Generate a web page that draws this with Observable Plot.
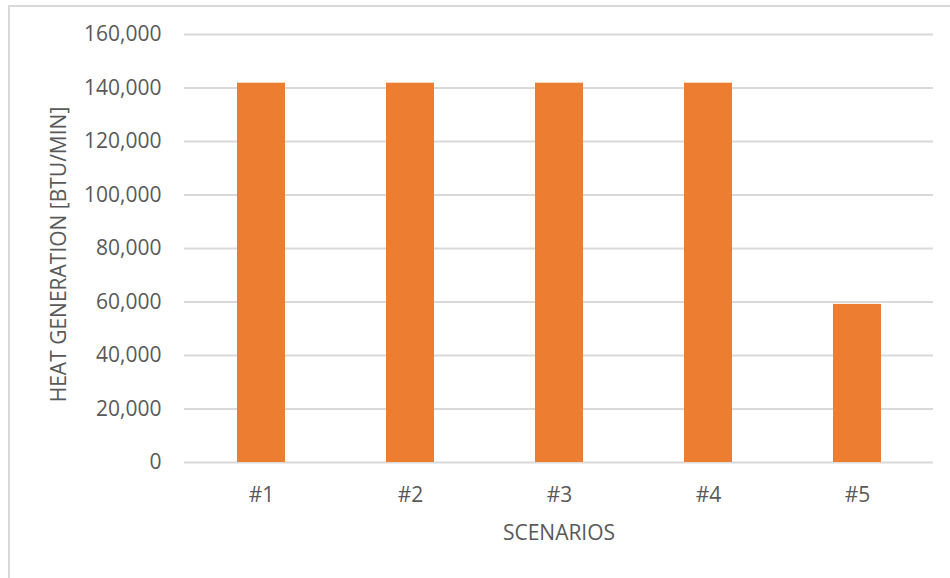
<!DOCTYPE html>
<html>
<head>
<meta charset="utf-8">
<script src="https://cdn.jsdelivr.net/npm/d3@7"></script>
<script src="https://cdn.jsdelivr.net/npm/@observablehq/plot@0.6"></script>
<style>
  html, body { margin: 0; padding: 0; background: #ffffff; }
  #wrap { position: relative; width: 950px; height: 578px; overflow: hidden; }
  #border {
    position: absolute; left: 8px; top: 5px; width: 1000px; height: 700px;
    border: 2px solid #d9d9d9; box-sizing: border-box;
  }
  #chart { position: absolute; left: 0; top: 0; }
</style>
</head>
<body>
<div id="wrap">
  <div id="border"></div>
  <div id="chart"></div>
</div>
<script>
// Heat generation per scenario
const scenarios = ["#1", "#2", "#3", "#4", "#5"];
const heatGeneration = [141800, 141800, 141800, 141800, 59100];
const yTicks = [0, 20000, 40000, 60000, 80000, 100000, 120000, 140000, 160000];
const yTitle = "HEAT GENERATION [BTU/MIN]";
const xTitle = "SCENARIOS";

const rows = scenarios.map((s, i) => ({scenario: s, heat: heatGeneration[i]}));

const textColor = "#595959";
const gridColor = "#d9d9d9";
const barColor = "#ed7d31";

const chart = Plot.plot({
  width: 950,
  height: 578,
  marginLeft: 184,
  marginRight: 17,
  marginTop: 34,
  marginBottom: 116,
  style: {fontFamily: "'Open Sans', sans-serif", fontSize: "21px", color: textColor, background: "transparent"},
  x: {domain: scenarios, paddingInner: 0.68, paddingOuter: 0.34, align: 0.5},
  y: {domain: [0, 160000]},
  marks: [
    Plot.gridY(yTicks, {stroke: gridColor, strokeOpacity: 1, strokeWidth: 2}),
    Plot.barY(rows, {x: "scenario", y: "heat", fill: barColor}),
    Plot.axisY(yTicks, {
      tickSize: 0, tickPadding: 23, tickFormat: d3.format(","),
      fill: textColor, fontSize: 21, label: null
    }),
    Plot.axisX({
      tickSize: 0, tickPadding: 25, fill: textColor, fontSize: 21, label: null
    }),
    // axis titles
    Plot.text([yTitle], {
      text: d => d, frameAnchor: "left", rotate: -90, dx: -125, dy: 6,
      textAnchor: "middle", lineAnchor: "middle",
      fill: textColor, fontSize: 21, ariaLabel: "y-title"
    }),
    Plot.text([xTitle], {
      text: d => d, frameAnchor: "bottom", dy: 71,
      textAnchor: "middle", lineAnchor: "middle",
      fill: textColor, fontSize: 21, ariaLabel: "x-title"
    })
  ]
});

// slightly wider letter spacing for the axis titles
d3.select(chart).select('g[aria-label="y-title"]').attr("letter-spacing", "1.7px");
d3.select(chart).select('g[aria-label="x-title"]').attr("letter-spacing", "0.8px");

document.getElementById("chart").appendChild(chart);
</script>
</body>
</html>
